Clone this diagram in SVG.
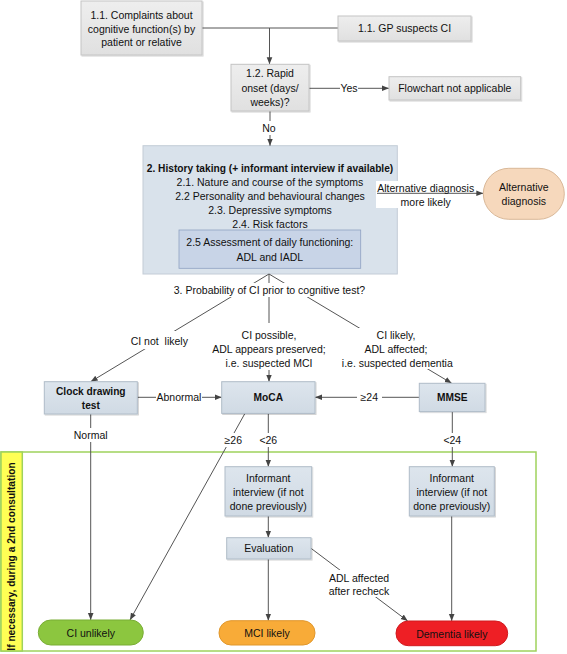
<svg xmlns="http://www.w3.org/2000/svg" width="567" height="654" viewBox="0 0 567 654">
<defs>
<style>
text{font-family:"Liberation Sans",Arial,sans-serif;font-size:10.5px;fill:#111;text-anchor:middle}
.b{font-weight:bold;font-size:10.2px}
.gray{fill:url(#gGray);stroke:#c4c4c4;stroke-width:1;filter:url(#sh)}
.blue{fill:url(#gBlue);stroke:#b0bcc8;stroke-width:1;filter:url(#sh)}
.hist{fill:#d9e2eb;stroke:#c3ccd6;stroke-width:1}
.inner{fill:#c8d4e7;stroke:#8fa2c2;stroke-width:0.8}
.c{fill:none;stroke:#555;stroke-width:1}
.a{marker-end:url(#ar)}
.lbg{fill:#fff}
</style>
<linearGradient id="gGray" x1="0" y1="0" x2="0" y2="1"><stop offset="0" stop-color="#eeeeee"/><stop offset="1" stop-color="#e0e0e0"/></linearGradient>
<linearGradient id="gBlue" x1="0" y1="0" x2="0" y2="1"><stop offset="0" stop-color="#dde5ed"/><stop offset="1" stop-color="#d0dae4"/></linearGradient>
<filter id="sh" x="-10%" y="-10%" width="125%" height="130%"><feDropShadow dx="1" dy="1" stdDeviation="0.6" flood-color="#000" flood-opacity="0.18"/></filter>
<marker id="ar" viewBox="0 0 8 8" refX="8" refY="4" markerWidth="7" markerHeight="7" markerUnits="userSpaceOnUse" orient="auto"><path d="M0,0.8 L8,4 L0,7.2 Z" fill="#444"/></marker>
</defs>
<rect width="567" height="654" fill="#fff"/>

<g id="frame">
<rect x="1" y="452" width="535" height="199" fill="#fff" stroke="#9fd25c" stroke-width="1.5"/>
<rect x="1" y="452" width="21.3" height="199" fill="#ffff55" stroke="#9fd25c" stroke-width="1.5"/>
<text class="b" transform="translate(15.4,556.5) rotate(-90)">If necessary, during a 2nd consultation</text>
</g>

<g id="n2">
<rect class="hist" x="143" y="145.7" width="254.3" height="128.3"/>
<text class="b" x="270" y="172">2. History taking (+ informant interview if available)</text>
<text x="270" y="186">2.1. Nature and course of the symptoms</text>
<text x="270" y="200">2.2 Personality and behavioural changes</text>
<text x="270" y="214">2.3. Depressive symptoms</text>
<text x="270" y="227.5">2.4. Risk factors</text>
</g>
<g id="n25">
<rect class="inner" x="179" y="230" width="181.7" height="38.3"/>
<text x="269.8" y="246">2.5 Assessment of daily functioning:</text>
<text x="269.8" y="260.5">ADL and IADL</text>
</g>

<g id="connectors">
<path class="c" d="M202,28 H338"/>
<path class="c a" d="M269.5,28 V64.3"/>
<path class="c a" d="M309,88.3 H389"/>
<path class="c a" d="M270,111 V145.7"/>
<rect class="lbg" x="376" y="181" width="100" height="27"/>
<path class="c a" d="M377,193.3 H483.3"/>
<path class="c a" d="M269,274 L90.7,381.7"/>
<path class="c a" d="M269,274 V381.7"/>
<path class="c a" d="M269,274 L451.7,383.3"/>
<path class="c a" d="M137.3,397.3 H221.7"/>
<path class="c a" d="M419.3,397.3 H315"/>
<path class="c a" d="M90.7,414 V620"/>
<path class="c a" d="M245,413.3 L130,620"/>
<path class="c a" d="M268.3,413.3 V466.7"/>
<path class="c a" d="M452.3,411.7 V466.7"/>
<path class="c a" d="M268.3,516 V537.7"/>
<path class="c a" d="M268.3,559 V620.7"/>
<path class="c a" d="M311,548.3 L407.7,621"/>
<path class="c a" d="M451.7,516 V621"/>
</g>

<g id="labels">
<rect class="lbg" x="340" y="82" width="18" height="13"/>
<text x="349" y="92">Yes</text>
<rect class="lbg" x="260" y="121" width="19" height="14"/>
<text x="269" y="132">No</text>
<text x="425.7" y="192">Alternative diagnosis</text>
<text x="425.7" y="205.5">more likely</text>
<rect class="lbg" x="170" y="283" width="200" height="14"/>
<text x="269.5" y="293.8">3. Probability of CI prior to cognitive test?</text>
<rect class="lbg" x="130" y="331" width="59" height="18"/>
<text x="159.3" y="344.8" xml:space="preserve">CI not  likely</text>
<rect class="lbg" x="210" y="323" width="120" height="47"/>
<text x="269" y="338.8">CI possible,</text>
<text x="269" y="353">ADL appears preserved;</text>
<text x="269" y="366.5">i.e. suspected MCI</text>
<rect class="lbg" x="340" y="328" width="114" height="41"/>
<text x="396" y="338.8">CI likely,</text>
<text x="396" y="353">ADL affected;</text>
<text x="397.3" y="367">i.e. suspected dementia</text>
<rect class="lbg" x="156" y="391" width="46" height="13"/>
<text x="179" y="401">Abnormal</text>
<rect class="lbg" x="357" y="391" width="25" height="13"/>
<text x="369.3" y="401">≥24</text>
<rect class="lbg" x="72" y="428" width="38" height="14"/>
<text x="90.7" y="439">Normal</text>
<rect class="lbg" x="221" y="433" width="25" height="14"/>
<text x="233.3" y="443.8">≥26</text>
<rect class="lbg" x="256" y="433" width="25" height="14"/>
<text x="268.3" y="443.8">&lt;26</text>
<rect class="lbg" x="440" y="433" width="25" height="14"/>
<text x="452.3" y="443.8">&lt;24</text>
<rect class="lbg" x="326" y="570" width="66" height="27"/>
<text x="359" y="581.5">ADL affected</text>
<text x="359" y="595">after recheck</text>
</g>

<g id="n11a">
<rect class="gray" x="81" y="1" width="121" height="54"/>
<text x="141.5" y="18.5">1.1. Complaints about</text>
<text x="141.5" y="32.5">cognitive function(s) by</text>
<text x="141.5" y="46">patient or relative</text>
</g>
<g id="n11b">
<rect class="gray" x="338" y="16" width="133" height="25"/>
<text x="404.5" y="32">1.1. GP suspects CI</text>
</g>
<g id="n12">
<rect class="gray" x="231" y="64.3" width="78" height="46.7"/>
<text x="270" y="77">1.2. Rapid</text>
<text x="270" y="92">onset (days/</text>
<text x="270" y="105.5">weeks)?</text>
</g>
<g id="nfna">
<rect class="gray" x="389" y="76.7" width="131.7" height="23.3"/>
<text x="454.8" y="92">Flowchart not applicable</text>
</g>
<g id="nalt">
<rect x="483.3" y="168.3" width="81" height="51" rx="25.5" fill="#f6d8bc" stroke="#d9b898" stroke-width="1"/>
<text x="523.8" y="191">Alternative</text>
<text x="523.8" y="204.5">diagnosis</text>
</g>
<g id="nclock">
<rect class="blue" x="44.3" y="381.7" width="93" height="32.3"/>
<text class="b" x="90.8" y="394.8">Clock drawing</text>
<text class="b" x="90.8" y="408.8">test</text>
</g>
<g id="nmoca">
<rect class="blue" x="221.7" y="381.7" width="93.3" height="31.7"/>
<text class="b" x="268.3" y="400.8">MoCA</text>
</g>
<g id="nmmse">
<rect class="blue" x="419.3" y="383.3" width="65.7" height="28.3"/>
<text class="b" x="452.2" y="400.8">MMSE</text>
</g>
<g id="ninf1">
<rect class="blue" x="225" y="466.7" width="86.7" height="49.3"/>
<text x="268.3" y="481.5">Informant</text>
<text x="268.3" y="495.5">interview (if not</text>
<text x="268.3" y="509.5">done previously)</text>
</g>
<g id="ninf2">
<rect class="blue" x="409.3" y="466.7" width="85" height="49.3"/>
<text x="451.8" y="481.5">Informant</text>
<text x="451.8" y="495.5">interview (if not</text>
<text x="451.8" y="509.5">done previously)</text>
</g>
<g id="neval">
<rect class="blue" x="226.7" y="537.7" width="84.3" height="21.3"/>
<text x="268.8" y="552.1">Evaluation</text>
</g>
<g id="nci">
<rect x="38.3" y="620" width="105" height="25" rx="12.5" fill="#8cc63f" stroke="#79ad35" stroke-width="1"/>
<text x="90.8" y="636.5">CI unlikely</text>
</g>
<g id="nmci">
<rect x="219" y="620.7" width="96" height="24.3" rx="12" fill="#f8ab38" stroke="#e0972c" stroke-width="1"/>
<text x="267" y="636.8">MCI likely</text>
</g>
<g id="ndem">
<rect x="396" y="621" width="111.7" height="24.7" rx="12.3" fill="#ee1f25" stroke="#d01a1f" stroke-width="1"/>
<text x="451.8" y="637.5" fill="#3a0000">Dementia likely</text>
</g>
</svg>
